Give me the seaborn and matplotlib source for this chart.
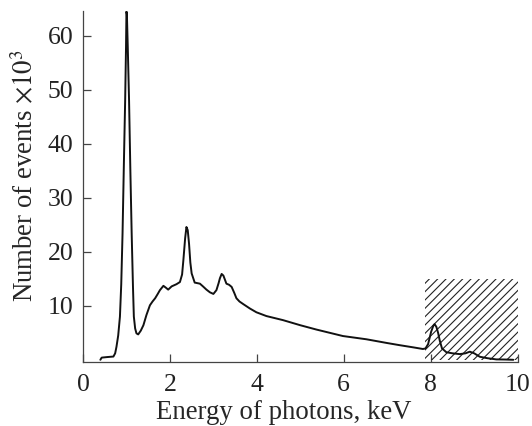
import numpy as np
import pandas as pd
import matplotlib
matplotlib.use("Agg")
import matplotlib.pyplot as plt
import seaborn as sns

# photon energy spectrum
energy_kev = [0.40, 0.43, 0.55, 0.70, 0.74, 0.77, 0.81, 0.85, 0.88, 0.91, 0.94,
              0.97, 0.99, 1.00, 1.01, 1.03, 1.06, 1.09, 1.12, 1.15, 1.17, 1.20,
              1.23, 1.27, 1.33, 1.39, 1.46, 1.54, 1.60, 1.66, 1.72, 1.77, 1.85,
              1.90, 1.96, 2.04, 2.15, 2.23, 2.28, 2.31, 2.35, 2.38, 2.41, 2.44,
              2.47, 2.50, 2.57, 2.63, 2.69, 2.76, 2.84, 2.92, 3.00, 3.07, 3.12,
              3.15, 3.19, 3.23, 3.30, 3.36, 3.42, 3.48, 3.53, 3.60, 3.69, 3.84,
              3.99, 4.22, 4.60, 5.00, 5.37, 5.98, 6.52, 7.00, 7.29, 7.60, 7.82,
              7.88, 7.94, 8.01, 8.06, 8.09, 8.13, 8.17, 8.21, 8.26, 8.36, 8.50,
              8.67, 8.80, 8.90, 9.00, 9.13, 9.30, 9.51, 9.70, 9.90]
events_k = [0.0, 0.4, 0.5, 0.6, 1.2, 2.4, 4.5, 8.0, 14.0, 23.4, 36.0,
            48.0, 58.0, 64.5, 64.0, 58.0, 48.0, 35.0, 23.4, 13.5, 8.0, 5.8,
            4.9, 4.7, 5.4, 6.4, 8.3, 10.1, 10.8, 11.4, 12.2, 12.9, 13.7,
            13.4, 13.0, 13.6, 14.0, 14.4, 15.8, 18.5, 22.5, 24.6, 24.0, 21.5,
            18.0, 16.0, 14.3, 14.2, 14.1, 13.6, 13.0, 12.5, 12.2, 12.9, 14.2,
            15.1, 15.9, 15.6, 14.1, 13.9, 13.5, 12.4, 11.4, 10.8, 10.3, 9.5,
            8.8, 8.1, 7.35, 6.4, 5.6, 4.4, 3.8, 3.1, 2.7, 2.3, 2.0,
            2.1, 2.9, 5.2, 6.3, 6.6, 6.1, 5.0, 3.5, 2.1, 1.4, 1.2,
            1.05, 1.2, 1.5, 1.2, 0.56, 0.3, 0.07, 0.05, 0.0]

# hatched (excluded) energy range
shade_x = [7.87, 10.0]
shade_top = 15.0

x_ticks = [0, 2, 4, 6, 8, 10]
y_ticks = [10, 20, 30, 40, 50, 60]

sns.set_style("ticks")
plt.rcParams["font.family"] = ["Liberation Serif", "DejaVu Serif"]
plt.rcParams["mathtext.fontset"] = "stix"
plt.rcParams["hatch.linewidth"] = 0.8
plt.rcParams["hatch.color"] = "#222222"

df = pd.DataFrame({"energy": energy_kev, "events": events_k})

fig = plt.figure(figsize=(5.32, 4.26), dpi=100)
ax = fig.add_axes([0.156, 0.151, 0.817, 0.823])

ax.fill_between(shade_x, 0, shade_top, facecolor="none", edgecolor="#222222",
                hatch="////", linewidth=0)
sns.lineplot(data=df, x="energy", y="events", ax=ax, color="#111111",
             linewidth=1.4)

ax.set_xlim(0, 10)
ax.set_ylim(-0.35, 64.6)
ax.set_xticks(x_ticks)
ax.set_yticks(y_ticks)
ax.tick_params(direction="in", length=6, width=0.9, colors="#444444",
               labelcolor="#222222", labelsize=18.5)
ax.tick_params(axis="x", pad=9)
ax.tick_params(axis="y", pad=7)
for s in ["top", "right"]:
    ax.spines[s].set_visible(False)
for s in ["left", "bottom"]:
    ax.spines[s].set_color("#444444")
    ax.spines[s].set_linewidth(0.9)

ax.set_xlabel("Energy of photons, keV", fontsize=19.3, labelpad=0)
ax.xaxis.set_label_coords(0.463, -0.108)
ax.set_ylabel(r"Number of events $\times10^3$", fontsize=19.3)
ax.yaxis.set_label_coords(-0.100, 0.53)

fig.savefig("out.png", dpi=100)
